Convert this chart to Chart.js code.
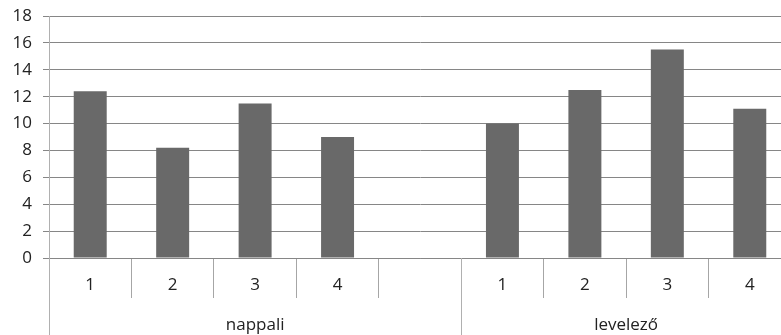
<!DOCTYPE html>
<html>
<head>
<meta charset="utf-8">
<script src="https://cdn.jsdelivr.net/npm/chart.js@4.4.1/dist/chart.umd.min.js"></script>
<style>
  html, body { margin: 0; padding: 0; overflow: hidden; background: #fff; }
  #wrap { position: relative; width: 795px; height: 335px; }
</style>
</head>
<body>
<div id="wrap"><canvas id="c"></canvas></div>
<script>
const categories = ['1', '2', '3', '4', '', '1', '2', '3', '4'];
const values = [12.4, 8.2, 11.5, 9.0, null, 10.0, 12.5, 15.5, 11.1];
const groups = ['nappali', 'levelező'];
const groupSpans = [[0, 4], [5, 8]];
const yTicks = [0, 2, 4, 6, 8, 10, 12, 14, 16, 18];

const FONT = { family: '"Open Sans", sans-serif', size: 17 };
const TEXT = '#222';

const groupPlugin = {
  id: 'groups',
  afterDraw(chart) {
    const x = chart.scales.x;
    const ctx = chart.ctx;
    const top = chart.chartArea.bottom;
    const bottom = chart.height;
    ctx.save();
    ctx.strokeStyle = '#b0b0b0';
    ctx.lineWidth = 1;
    const bounds = [groupSpans[0][0] - 0.5];
    groupSpans.forEach(s => bounds.push(s[1] + 0.5));
    bounds.forEach(b => {
      const px = Math.round(x.getPixelForValue(b)) + 0.5;
      ctx.beginPath();
      ctx.moveTo(px, top);
      ctx.lineTo(px, bottom);
      ctx.stroke();
    });
    ctx.fillStyle = TEXT;
    ctx.font = FONT.size + 'px ' + FONT.family;
    ctx.textAlign = 'center';
    ctx.textBaseline = 'middle';
    groups.forEach((g, i) => {
      const a = x.getPixelForValue(groupSpans[i][0] - 0.5);
      const b = x.getPixelForValue(groupSpans[i][1] + 0.5);
      ctx.fillText(g, (a + b) / 2, 325);
    });
    ctx.restore();
  }
};

new Chart(document.getElementById('c'), {
  type: 'bar',
  data: {
    labels: categories,
    datasets: [{
      data: values,
      backgroundColor: '#696969',
      borderWidth: 0,
      barPercentage: 0.4,
      categoryPercentage: 1.0
    }]
  },
  options: {
    responsive: true,
    maintainAspectRatio: false,
    animation: false,
    devicePixelRatio: 1,
    layout: { padding: { top: 16, right: 4, bottom: 0, left: 0 } },
    plugins: { legend: { display: false }, tooltip: { enabled: false } },
    scales: {
      x: {
        offset: true,
        grid: {
          offset: true,
          drawOnChartArea: false,
          drawTicks: true,
          tickLength: 40,
          color: '#a6a6a6'
        },
        border: { display: true, color: '#868686' },
        ticks: { font: FONT, color: TEXT, padding: -23, maxRotation: 0, autoSkip: false },
        afterFit(scale) { scale.height = 77; scale.paddingLeft = 0; scale.paddingRight = 0; }
      },
      y: {
        min: 0,
        max: 18,
        afterBuildTicks(scale) { scale.ticks = yTicks.map(v => ({ value: v })); },
        grid: { color: '#868686', tickLength: 6, drawTicks: true },
        border: { display: true, color: '#b0b0b0' },
        ticks: { font: FONT, color: TEXT, padding: 11 },
        afterFit(scale) { scale.width = 49; scale.paddingTop = 0; scale.paddingBottom = 0; }
      }
    }
  },
  plugins: [groupPlugin]
});
</script>
</body>
</html>
